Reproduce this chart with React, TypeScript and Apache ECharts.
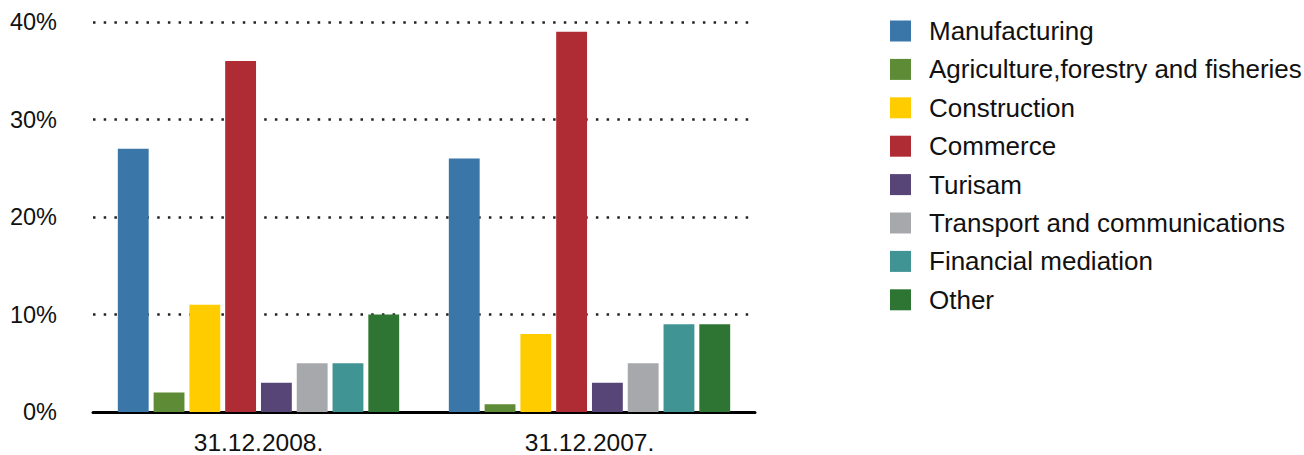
import React, { useEffect, useRef } from "react";
import * as echarts from "echarts";

// Share of companies by sector, at two reporting dates (percent)
const categories = ["31.12.2008.", "31.12.2007."];
const sectors = [
  "Manufacturing",
  "Agriculture,forestry and fisheries",
  "Construction",
  "Commerce",
  "Turisam",
  "Transport and communications",
  "Financial mediation",
  "Other",
];
const manufacturing = [27, 26];
const agriculture = [2, 0.8];
const construction = [11, 8];
const commerce = [36, 39];
const turisam = [3, 3];
const transport = [5, 5];
const financial = [5, 9];
const other = [10, 9];
const yTicks = [0, 10, 20, 30, 40];

const values = [manufacturing, agriculture, construction, commerce, turisam, transport, financial, other];
const colors = ["#3a77a8", "#5e8c36", "#ffcc00", "#b02c35", "#574577", "#a7a8ab", "#419494", "#2e7432"];

const FONT = "'Liberation Sans', Arial, Helvetica, sans-serif";

export default function App() {
  const ref = useRef<HTMLDivElement>(null);

  useEffect(() => {
    if (!ref.current) return;
    const chart = echarts.init(ref.current, null, { renderer: "svg" });
    chart.setOption({
      animation: false,
      color: colors,
      textStyle: { fontFamily: FONT },
      grid: { left: 93, right: 549, top: 22, bottom: 43, containLabel: false },
      legend: {
        orient: "vertical",
        left: 890,
        top: 18,
        padding: 0,
        itemWidth: 21,
        itemHeight: 21,
        itemGap: 12.4,
        icon: "rect",
        data: sectors,
        textStyle: { fontSize: 26, color: "#111", fontFamily: FONT, padding: [0, 0, 0, 13] },
      },
      xAxis: {
        type: "category",
        data: categories,
        axisTick: { show: false },
        axisLine: { lineStyle: { color: "#000", width: 3 } },
        axisLabel: { fontSize: 24.5, color: "#111", margin: 18, fontFamily: FONT },
        splitLine: { show: false },
      },
      yAxis: {
        type: "value",
        min: yTicks[0],
        max: yTicks[yTicks.length - 1],
        interval: 10,
        axisLine: { show: false },
        axisTick: { show: false },
        axisLabel: { formatter: "{value}%", fontSize: 23.5, color: "#111", margin: 36, fontFamily: FONT },
        splitLine: {
          lineStyle: { color: "#222", width: 2.5, type: [2.5, 8.2], cap: "butt" },
        },
      },
      series: sectors.map((name, i) => ({
        name,
        type: "bar",
        data: values[i],
        barGap: "16%",
        barCategoryGap: "15%",
        itemStyle: { color: colors[i] },
      })),
    });
    return () => chart.dispose();
  }, []);

  return (
    <div
      ref={ref}
      style={{ position: "fixed", left: 0, top: 0, width: 1304, height: 455, background: "#fff" }}
    />
  );
}
